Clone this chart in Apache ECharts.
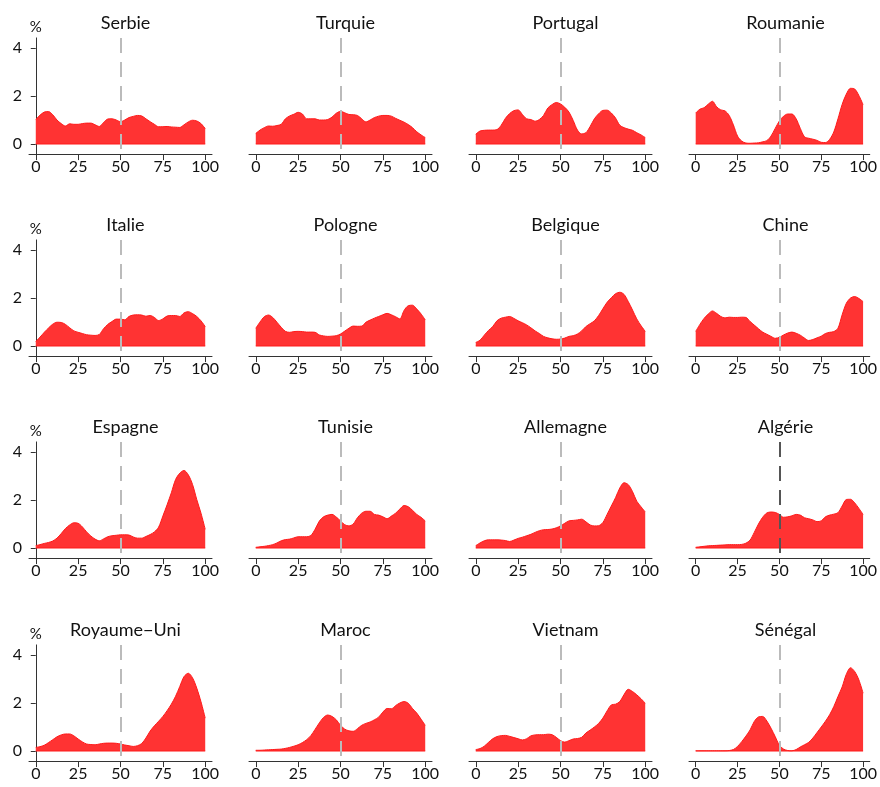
<!DOCTYPE html>
<html>
<head>
<meta charset="utf-8">
<script src="https://cdn.jsdelivr.net/npm/echarts@6/dist/echarts.min.js"></script>
<style>
html,body{margin:0;padding:0;background:#fff;}
#chart{width:880px;height:787px;}
</style>
</head>
<body>
<div id="chart"></div>
<script>
// ---- data (density, % per score point) ----
const xs = [0,2.5,5,7.5,10,12.5,15,17.5,20,22.5,25,27.5,30,32.5,35,37.5,40,42.5,45,47.5,50,52.5,55,57.5,60,62.5,65,67.5,70,72.5,75,77.5,80,82.5,85,87.5,90,92.5,95,97.5,100];
const countries = ["Serbie","Turquie","Portugal","Roumanie","Italie","Pologne","Belgique","Chine","Espagne","Tunisie","Allemagne","Algérie","Royaume\u2212Uni","Maroc","Vietnam","Sénégal"];
const serbie    = [1.03,1.2,1.33,1.35,1.22,1.0,0.85,0.75,0.84,0.82,0.82,0.85,0.87,0.87,0.8,0.73,0.9,1.04,1.05,1.0,0.93,1.0,1.1,1.15,1.19,1.17,1.05,0.93,0.82,0.72,0.72,0.73,0.71,0.7,0.69,0.8,0.92,0.99,0.96,0.85,0.64];
const turquie   = [0.44,0.58,0.68,0.75,0.74,0.77,0.82,1.05,1.17,1.24,1.32,1.25,1.05,1.05,1.05,1.0,1.0,1.02,1.12,1.28,1.36,1.3,1.23,1.22,1.19,1.05,0.92,1.0,1.1,1.16,1.19,1.19,1.16,1.07,0.99,0.91,0.81,0.68,0.51,0.38,0.27];
const portugal  = [0.41,0.54,0.57,0.58,0.58,0.6,0.78,1.07,1.27,1.39,1.42,1.23,1.05,1.02,0.95,1.02,1.19,1.5,1.64,1.73,1.67,1.53,1.33,0.98,0.58,0.42,0.47,0.73,1.05,1.26,1.4,1.41,1.29,1.08,0.78,0.68,0.62,0.57,0.47,0.38,0.27];
const roumanie  = [1.29,1.45,1.51,1.66,1.78,1.55,1.42,1.38,1.19,0.8,0.33,0.12,0.04,0.03,0.04,0.05,0.09,0.14,0.33,0.65,0.96,1.16,1.25,1.25,1.05,0.65,0.3,0.24,0.2,0.15,0.07,0.06,0.19,0.5,1.05,1.65,2.08,2.32,2.29,2.02,1.64];
const italie    = [0.19,0.37,0.57,0.75,0.91,0.99,0.98,0.9,0.76,0.63,0.57,0.52,0.47,0.45,0.44,0.48,0.72,0.9,1.02,1.12,1.12,1.09,1.23,1.29,1.3,1.29,1.24,1.27,1.19,1.06,1.13,1.25,1.27,1.27,1.23,1.38,1.43,1.35,1.23,1.05,0.81];
const pologne   = [0.74,1.0,1.22,1.29,1.19,0.99,0.78,0.61,0.57,0.6,0.61,0.6,0.58,0.58,0.57,0.46,0.42,0.4,0.41,0.43,0.5,0.62,0.74,0.83,0.82,0.83,0.99,1.08,1.16,1.23,1.3,1.36,1.3,1.22,1.13,1.48,1.68,1.7,1.54,1.34,1.09];
const belgique  = [0.15,0.24,0.45,0.65,0.81,1.05,1.16,1.2,1.23,1.15,1.05,0.97,0.88,0.76,0.63,0.52,0.4,0.34,0.3,0.28,0.29,0.33,0.4,0.43,0.5,0.63,0.81,0.93,1.05,1.27,1.55,1.82,2.01,2.18,2.24,2.15,1.85,1.5,1.13,0.85,0.61];
const chine     = [0.61,0.9,1.15,1.33,1.46,1.36,1.23,1.17,1.2,1.19,1.19,1.2,1.19,1.02,0.87,0.72,0.58,0.49,0.4,0.32,0.36,0.46,0.54,0.58,0.53,0.45,0.33,0.23,0.27,0.34,0.41,0.52,0.57,0.6,0.74,1.3,1.78,2.0,2.06,1.98,1.85];
const espagne   = [0.1,0.14,0.19,0.23,0.29,0.41,0.6,0.81,0.96,1.05,1.03,0.88,0.67,0.5,0.37,0.3,0.38,0.47,0.51,0.53,0.55,0.55,0.54,0.46,0.41,0.41,0.48,0.56,0.67,0.87,1.33,1.8,2.3,2.85,3.12,3.23,3.05,2.65,2.02,1.45,0.78];
const tunisie   = [0.03,0.05,0.07,0.1,0.14,0.21,0.3,0.35,0.37,0.42,0.47,0.47,0.47,0.52,0.78,1.12,1.3,1.37,1.4,1.29,1.13,0.97,0.92,1.0,1.26,1.45,1.53,1.53,1.4,1.37,1.3,1.22,1.33,1.45,1.62,1.77,1.72,1.57,1.4,1.28,1.13];
const allemagne = [0.1,0.21,0.3,0.34,0.34,0.34,0.33,0.31,0.27,0.33,0.4,0.45,0.51,0.57,0.65,0.72,0.76,0.77,0.79,0.84,0.92,1.03,1.13,1.15,1.17,1.2,1.09,0.96,0.92,0.93,1.06,1.4,1.75,2.1,2.5,2.72,2.64,2.35,1.95,1.72,1.5];
const algerie   = [0.03,0.05,0.07,0.09,0.1,0.11,0.12,0.13,0.14,0.14,0.14,0.15,0.2,0.33,0.65,1.0,1.28,1.46,1.5,1.48,1.4,1.28,1.3,1.34,1.4,1.37,1.26,1.22,1.17,1.1,1.13,1.3,1.37,1.41,1.47,1.75,2.02,2.03,1.88,1.65,1.4];
const royaumeUni= [0.15,0.18,0.24,0.35,0.47,0.59,0.67,0.71,0.71,0.63,0.5,0.38,0.29,0.27,0.26,0.29,0.32,0.33,0.33,0.32,0.29,0.25,0.22,0.19,0.22,0.31,0.54,0.83,1.05,1.24,1.44,1.68,1.95,2.28,2.69,3.1,3.24,3.05,2.62,2.05,1.37];
const maroc     = [0.03,0.03,0.04,0.05,0.06,0.07,0.08,0.11,0.15,0.2,0.26,0.35,0.47,0.64,0.9,1.17,1.4,1.5,1.44,1.3,1.07,0.91,0.84,0.82,0.93,1.07,1.15,1.21,1.3,1.41,1.62,1.77,1.76,1.89,2.0,2.06,1.99,1.77,1.58,1.33,1.07];
const vietnam   = [0.06,0.1,0.2,0.36,0.51,0.6,0.64,0.65,0.61,0.56,0.51,0.46,0.51,0.63,0.67,0.68,0.68,0.7,0.68,0.57,0.43,0.37,0.43,0.5,0.52,0.57,0.75,0.87,1.0,1.15,1.37,1.67,1.92,1.95,2.06,2.35,2.57,2.48,2.34,2.18,1.99];
const senegal   = [0.01,0.01,0.01,0.01,0.01,0.01,0.01,0.01,0.02,0.06,0.19,0.39,0.62,0.88,1.23,1.42,1.44,1.25,0.95,0.6,0.24,0.08,0.02,0.01,0.06,0.17,0.26,0.36,0.54,0.77,1.0,1.24,1.51,1.85,2.27,2.67,3.2,3.47,3.31,2.96,2.41];
const seriesValues = [serbie,turquie,portugal,roumanie,italie,pologne,belgique,chine,espagne,tunisie,allemagne,algerie,royaumeUni,maroc,vietnam,senegal];
const xTicks = [0,25,50,75,100];
const yTicks = [0,2,4];
const refX = 50;
const darkRef = ["Algérie"];

// ---- layout ----
const FONT = 'Lato, "Open Sans", sans-serif';
const colLeft = 29, colStep = 220, gW = 183;
const baseY = [144, 346, 548, 751];
const pxPerUnit = 24, yMin = -0.42, yMax = 4.42;

const grids = [], xAxes = [], yAxes = [], series = [], titles = [];
countries.forEach((name, i) => {
  const r = Math.floor(i / 4), c = i % 4;
  const top = baseY[r] - yMax * pxPerUnit;
  const h = (yMax - yMin) * pxPerUnit;
  grids.push({left: colLeft + c * colStep, top: top, width: gW, height: h});
  titles.push({
    text: name, left: colLeft + c * colStep + gW / 2, top: baseY[r] - 135,
    textAlign: 'center',
    textStyle: {fontFamily: FONT, fontSize: 18, fontWeight: 'normal', color: '#111'}
  });
  xAxes.push({
    gridIndex: i, type: 'value', min: -4, max: 104,
    axisLine: {show: true, onZero: false, lineStyle: {color: '#333', width: 1}},
    axisTick: {show: true, length: 6, customValues: xTicks, lineStyle: {color: '#333'}},
    axisLabel: {show: true, customValues: xTicks, margin: 5, fontFamily: FONT, fontSize: 16, color: '#111'},
    splitLine: {show: false}
  });
  const showY = c === 0;
  yAxes.push({
    gridIndex: i, type: 'value', min: yMin, max: yMax,
    name: showY ? '%' : '', nameLocation: 'end', nameGap: 3,
    nameTextStyle: {fontFamily: FONT, fontSize: 15, color: '#111', align: 'center', verticalAlign: 'bottom'},
    axisLine: {show: showY, lineStyle: {color: '#333', width: 1}},
    axisTick: {show: showY, length: 5, customValues: yTicks, lineStyle: {color: '#333'}},
    axisLabel: {show: showY, customValues: yTicks, margin: 7, fontFamily: FONT, fontSize: 16, color: '#111'},
    splitLine: {show: false}
  });
  const vals = seriesValues[i];
  series.push({
    type: 'line', xAxisIndex: i, yAxisIndex: i,
    data: xs.map((x, k) => [x, vals[k]]),
    smooth: 0.3, showSymbol: false, symbol: 'none',
    lineStyle: {color: '#ff1a1a', width: 1},
    areaStyle: {color: '#ff3333', opacity: 1, origin: 0},
    z: 2, silent: true,
    markLine: {
      silent: true, symbol: 'none', animation: false,
      label: {show: false},
      lineStyle: {color: darkRef.includes(name) ? '#555' : '#bbb', type: [15, 9], width: 2},
      data: [[{coord: [refX, yMax]}, {coord: [refX, yMin]}]]
    }
  });
  series.push({
    type: 'line', xAxisIndex: i, yAxisIndex: i,
    data: [[xs[0], 0], [xs[xs.length - 1], 0]],
    showSymbol: false, symbol: 'none', silent: true,
    lineStyle: {color: '#ff1a1a', width: 1}, z: 3
  });
});

const chart = echarts.init(document.getElementById('chart'), null, {renderer: 'canvas'});
chart.setOption({
  animation: false,
  backgroundColor: '#fff',
  title: titles, grid: grids, xAxis: xAxes, yAxis: yAxes, series: series
});
</script>
</body>
</html>
